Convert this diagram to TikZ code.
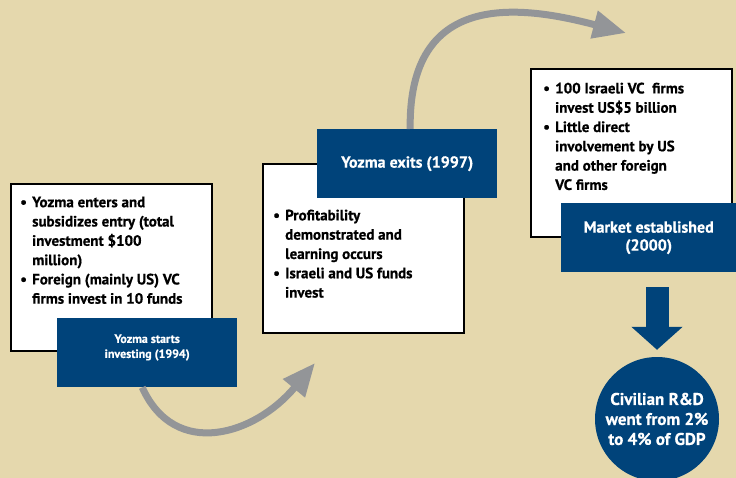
\documentclass[tikz,border=0pt]{standalone}
\usepackage{fontspec}
\setmainfont{PT Sans}[BoldFeatures={FakeBold=0.6}]
\usetikzlibrary{arrows.meta}

\definecolor{sand}{RGB}{229,216,173}
\definecolor{navy}{RGB}{0,67,122}
\definecolor{flowgray}{RGB}{147,149,152}

\newcommand{\bul}{\makebox[12pt][l]{\textbullet}}
\newcommand{\ind}{\hspace*{12pt}}

\tikzset{
  notebox/.style={draw=black, line width=2pt, fill=white, inner sep=0pt, anchor=north west},
  notetext/.style={font=\bfseries\fontsize{15}{19.3}\selectfont, align=left, anchor=north west, inner sep=0pt},
  stagebox/.style={fill=navy, text=white, align=center, inner sep=0pt, anchor=north west,
    minimum width=180pt, minimum height=69pt, font=\bfseries\fontsize{16}{18}\selectfont},
  flow/.style={draw=flowgray, line width=7pt, -{Triangle[length=33pt,width=27pt]}},
  blockarrow/.style={draw=navy, line width=23pt, -{Triangle[length=23pt,width=50pt]}},
}

\begin{document}
\begin{tikzpicture}[x=1pt,y=-1pt]
\path[use as bounding box, clip] (0,0) rectangle (736,478);
\fill[sand] (0,0) rectangle (736,478);

% stage 1
\node[notebox, minimum width=201pt, minimum height=167pt] (note1) at (10,183) {};
\node[notetext] (list1) at (20,196.5) {\bul Yozma enters and\\
  \ind subsidizes entry (total\\
  \ind investment \$100\\
  \ind million)\\
  \bul Foreign (mainly US) VC\\
  \ind firms invest in 10 funds};
\node[stagebox, font=\bfseries\fontsize{12}{15}\selectfont] (stage1) at (57,318) {Yozma starts\\investing (1994)\\[-2pt]};

% stage 2
\node[notebox, minimum width=201pt, minimum height=169pt] (note2) at (262,163) {};
\node[notetext] (list2) at (273,209.5) {\bul Profitability\\
  \ind demonstrated and\\
  \ind learning occurs\\
  \bul Israeli and US funds\\
  \ind invest};
\node[stagebox] (stage2) at (317,129) {Yozma exits (1997)};

% stage 3
\node[notebox, minimum width=201pt, minimum height=168pt] (note3) at (530,68) {};
\node[notetext] (list3) at (543,82.5) {\bul 100 Israeli VC~ firms\\
  \ind invest US\$5 billion\\
  \bul Little direct\\
  \ind involvement by US\\
  \ind and other foreign\\
  \ind VC firms};
\node[stagebox, minimum width=175pt] (stage3) at (561,203) {Market established\\(2000)};

% result
\node[circle, fill=navy, text=white, minimum size=124pt, inner sep=0pt, align=center,
  font=\bfseries\fontsize{17}{20}\selectfont] (goal) at (657,419) {Civilian R\&D\\went from 2\%\\to 4\% of GDP};

% connectors
\coordinate (tip1) at (315,363);
\coordinate (tip2) at (626,33);
\draw[flow] ([xshift=-5pt]stage1.south) .. controls (175,460) and (255,435) .. (tip1);
\draw[flow] ([xshift=3pt]stage2.north) .. controls (408,-10) and (520,5) .. (tip2);
\draw[blockarrow, shorten <=15pt, shorten >=7pt] (goal.north |- stage3.south) -- (goal.north);
\end{tikzpicture}
\end{document}
